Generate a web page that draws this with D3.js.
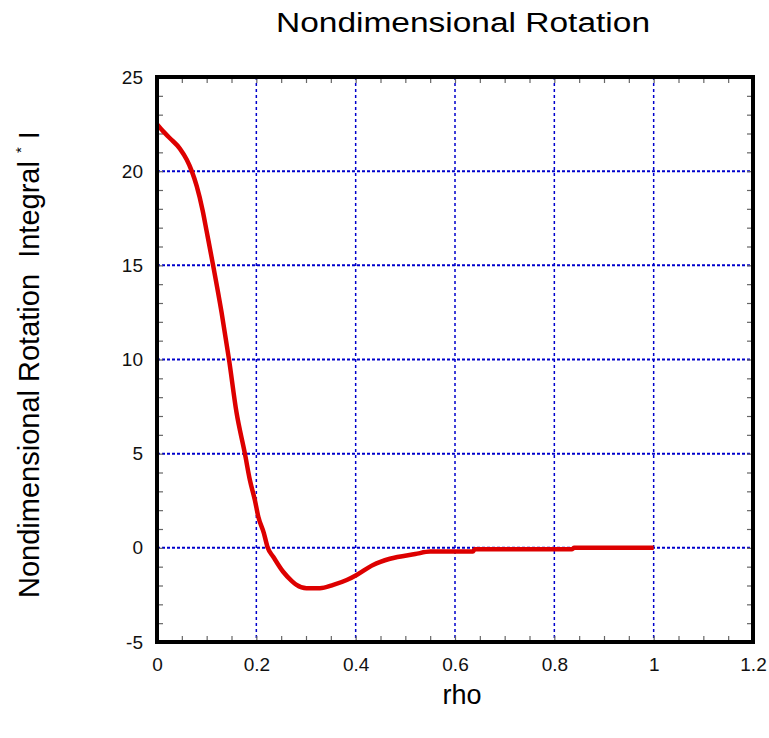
<!DOCTYPE html>
<html>
<head>
<meta charset="utf-8">
<script src="https://cdn.jsdelivr.net/npm/d3@7"></script>
<style>
  body { margin: 0; background: #fff; }
  svg { display: block; font-family: "Liberation Sans", Arial, sans-serif; }
</style>
</head>
<body>
<script>
// curve (rho, nondimensional rotation integral)
const rhoValues = [0, 0.013, 0.026, 0.046, 0.06, 0.07, 0.08, 0.092, 0.1, 0.113, 0.13, 0.145, 0.16, 0.177,
    0.187, 0.197, 0.204, 0.215, 0.223, 0.234, 0.254, 0.271, 0.281, 0.301, 0.328, 0.355, 0.382, 0.402,
    0.435, 0.469, 0.52, 0.55, 0.636, 0.64, 0.835, 0.84, 1.0];
const integralValues = [22.5, 22.1, 21.75, 21.2, 20.6, 20.0, 19.2, 17.9, 16.8, 15.0, 12.5, 10.0, 7.2, 5.0,
    3.6, 2.54, 1.65, 0.8, 0.0, -0.47, -1.27, -1.75, -1.97, -2.15, -2.15, -1.97, -1.71, -1.44,
    -0.91, -0.58, -0.33, -0.2, -0.2, -0.08, -0.08, 0, 0];

const xTicks = [0, 0.2, 0.4, 0.6, 0.8, 1, 1.2];
const yTicks = [-5, 0, 5, 10, 15, 20, 25];
const xMinor = d3.range(0, 1.2001, 0.05);
const yMinor = d3.range(-5, 25.001, 1);

const W = 769, H = 738;
const plotLeft = 157, plotRight = 753, plotTop = 77, plotBottom = 642;

const svg = d3.select("body").append("svg")
    .attr("width", W)
    .attr("height", H);

const x = d3.scaleLinear().domain([0, 1.2]).range([plotLeft, plotRight]);
const y = d3.scaleLinear().domain([-5, 25]).range([plotBottom, plotTop]);

// dotted blue grid at interior major ticks
svg.append("g")
    .selectAll("line")
    .data(xTicks.filter(d => d > 0 && d < 1.2))
    .join("line")
    .attr("x1", d => x(d)).attr("x2", d => x(d))
    .attr("y1", plotTop).attr("y2", plotBottom)
    .attr("stroke", "#0000cc")
    .attr("stroke-width", 1.5)
    .attr("stroke-dasharray", "3,3");

svg.append("g")
    .selectAll("line")
    .data(yTicks.filter(d => d > -5 && d < 25))
    .join("line")
    .attr("x1", plotLeft).attr("x2", plotRight)
    .attr("y1", d => y(d)).attr("y2", d => y(d))
    .attr("stroke", "#0000cc")
    .attr("stroke-width", 2)
    .attr("stroke-dasharray", "3,2");

// inward tick marks on all four sides
function ticks(axis, tx, ty) {
    const g = svg.append("g")
        .attr("transform", "translate(" + tx + "," + ty + ")")
        .call(axis.tickSize(-6).tickFormat(""));
    g.select(".domain").remove();
    g.selectAll("line").attr("stroke", "#666").attr("stroke-width", 1.2);
}
ticks(d3.axisBottom(x).tickValues(xMinor), 0, plotBottom);
ticks(d3.axisTop(x).tickValues(xMinor), 0, plotTop);
ticks(d3.axisLeft(y).tickValues(yMinor), plotLeft, 0);
ticks(d3.axisRight(y).tickValues(yMinor), plotRight, 0);

// tick labels (plain hyphen for negatives, as in the original)
const xAxis = svg.append("g")
    .attr("transform", "translate(0," + plotBottom + ")")
    .call(d3.axisBottom(x).tickValues(xTicks).tickSize(0).tickPadding(16).tickFormat(d => String(d)));
xAxis.select(".domain").remove();

const yAxis = svg.append("g")
    .attr("transform", "translate(" + plotLeft + ",0)")
    .call(d3.axisLeft(y).tickValues(yTicks).tickSize(0).tickPadding(14).tickFormat(d => String(d)));
yAxis.select(".domain").remove();

svg.selectAll(".tick text")
    .attr("font-family", "Liberation Sans, Arial, sans-serif")
    .attr("font-size", 19)
    .attr("fill", "#111");

// curve
const points = rhoValues.map((r, i) => [r, integralValues[i]]);
const line = d3.line()
    .x(d => x(d[0]))
    .y(d => y(d[1]))
    .curve(d3.curveMonotoneX);

svg.append("path")
    .datum(points)
    .attr("d", line)
    .attr("fill", "none")
    .attr("stroke", "#dd0000")
    .attr("stroke-width", 4.5)
    .attr("stroke-linejoin", "round");

// frame
svg.append("rect")
    .attr("x", plotLeft).attr("y", plotTop)
    .attr("width", plotRight - plotLeft).attr("height", plotBottom - plotTop)
    .attr("fill", "none")
    .attr("stroke", "#000")
    .attr("stroke-width", 4);

// titles
svg.append("text")
    .attr("x", 463).attr("y", 31.5)
    .attr("text-anchor", "middle")
    .attr("font-size", 27)
    .attr("textLength", 374)
    .attr("lengthAdjust", "spacingAndGlyphs")
    .text("Nondimensional Rotation");

svg.append("text")
    .attr("x", 462).attr("y", 704)
    .attr("text-anchor", "middle")
    .attr("font-size", 27)
    .text("rho");

const yl = svg.append("text")
    .attr("transform", "translate(38.5,598) rotate(-90)")
    .attr("font-size", 29);
yl.append("tspan").text("Nondimensional Rotation\u00a0\u00a0Integral\u00a0");
yl.append("tspan").attr("font-size", 15).attr("dy", -13).text("*");
yl.append("tspan").attr("dy", 13).text("\u00a0I");
</script>
</body>
</html>
